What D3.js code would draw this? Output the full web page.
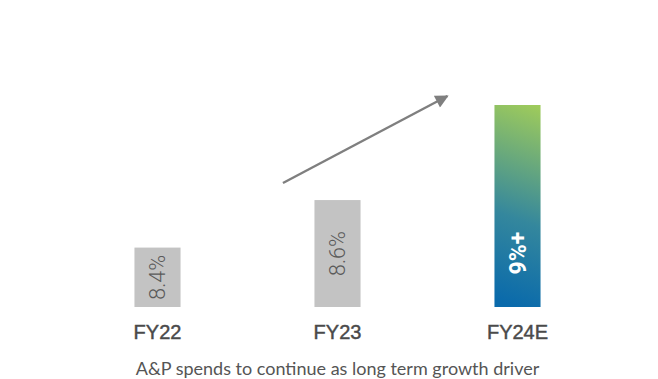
<!DOCTYPE html>
<html><head><meta charset="utf-8">
<script src="https://cdn.jsdelivr.net/npm/d3@7/dist/d3.min.js"></script>
<style>html,body{margin:0;padding:0;background:#fff;}svg{display:block;}</style>
</head><body>
<svg id="chart" width="658" height="379"></svg>
<script>
const categories = ["FY22", "FY23", "FY24E"];
const values = [8.4, 8.6, 9.0];
const valueLabels = ["8.4%", "8.6%", "9%+"];
const caption = "A&P spends to continue as long term growth driver";

const W = 658, H = 379;
const svg = d3.select("#chart");

const x = d3.scaleBand().domain(categories).range([67.5, 607.5]).paddingInner(0.744).paddingOuter(0.372);
const y = d3.scaleLinear().domain([8.15, 9.0]).range([307, 105]);

const last = categories.length - 1;
const defs = svg.append("defs");
const gx0 = x(categories[last]), gbw = x.bandwidth();
const grad = defs.append("linearGradient").attr("id", "g24")
  .attr("gradientUnits", "userSpaceOnUse")
  .attr("x1", gx0).attr("y1", y.range()[0] - 8)
  .attr("x2", gx0 + gbw + 25).attr("y2", y(values[last]));
grad.append("stop").attr("offset", "0%").attr("stop-color", "#0a6aab");
grad.append("stop").attr("offset", "40%").attr("stop-color", "#34879d");
grad.append("stop").attr("offset", "100%").attr("stop-color", "#a8d155");

svg.selectAll("rect.bar").data(categories).join("rect")
  .attr("class", "bar")
  .attr("x", d => x(d))
  .attr("width", x.bandwidth())
  .attr("y", (d, i) => y(values[i]))
  .attr("height", (d, i) => y.range()[0] - y(values[i]))
  .attr("fill", (d, i) => i === last ? "url(#g24)" : "#c3c3c3");

// value labels (rotated)
svg.selectAll("text.val").data(categories).join("text")
  .attr("class", "val")
  .attr("transform", (d, i) => {
    const cx = x(d) + x.bandwidth() / 2;
    const base = y.range()[0], top = y(values[i]);
    const cy = i === last ? base - (base - top) * 0.267 : (base + top) / 2;
    return `translate(${cx},${cy}) rotate(-90)`;
  })
  .attr("text-anchor", "middle")
  .attr("dy", "0.36em")
  .attr("font-family", "Roboto, Arial, sans-serif")
  .attr("font-size", (d, i) => i === last ? 23 : 21.5)
  .attr("font-weight", (d, i) => i === last ? 700 : 300)
  .attr("fill", (d, i) => i === last ? "#ffffff" : "#5a5a5a")
  .text((d, i) => valueLabels[i]);

// category labels
svg.selectAll("text.cat").data(categories).join("text")
  .attr("class", "cat")
  .attr("x", d => x(d) + x.bandwidth() / 2)
  .attr("y", 339)
  .attr("text-anchor", "middle")
  .attr("font-family", "'Liberation Sans', Arial, sans-serif")
  .attr("font-size", 20)
  .attr("fill", "#4a4a4a")
  .attr("stroke", "#4a4a4a")
  .attr("stroke-width", 0.45)
  .text(d => d);

// trend arrow
const ax1 = x("FY23") - 31.5, ay1 = y(8.6) - 17;
const ax2 = x("FY24E") - 47, ay2 = y(9.0) - 9;
defs.append("marker").attr("id", "ah")
  .attr("viewBox", "0 0 10 10").attr("refX", 9).attr("refY", 5)
  .attr("markerWidth", 6.5).attr("markerHeight", 5.5)
  .attr("markerUnits", "strokeWidth").attr("orient", "auto")
  .append("path").attr("d", "M0,0 L10,5 L0,10 Z").attr("fill", "#7f7f7f");
svg.append("line")
  .attr("x1", ax1).attr("y1", ay1).attr("x2", ax2).attr("y2", ay2)
  .attr("stroke", "#7f7f7f").attr("stroke-width", 2.4)
  .attr("marker-end", "url(#ah)");

// caption
svg.append("text")
  .attr("x", (x("FY22") + x("FY24E") + x.bandwidth()) / 2)
  .attr("y", 375)
  .attr("text-anchor", "middle")
  .attr("font-family", "Lato, 'Open Sans', sans-serif")
  .attr("font-size", 18)
  .attr("fill", "#555555")
  .text(caption);
</script>
</body></html>
